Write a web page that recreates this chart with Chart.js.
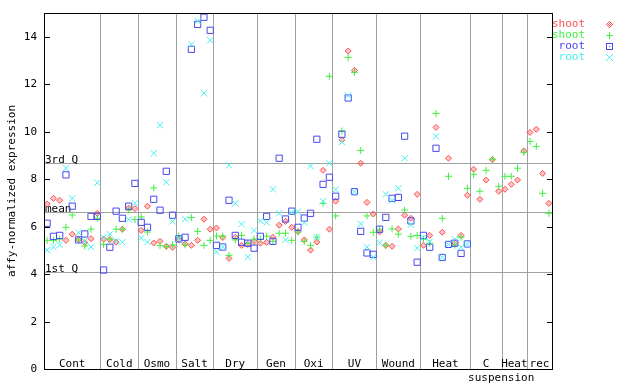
<!DOCTYPE html>
<html>
<head>
<meta charset="utf-8">
<script src="https://cdn.jsdelivr.net/npm/chart.js@4.4.0/dist/chart.umd.min.js"></script>
<style>
html, body { margin:0; padding:0; background:#fff; }
#wrap { width:640px; height:384px; }
</style>
</head>
<body>
<div id="wrap"><canvas id="chart" width="640" height="384"></canvas></div>
<script>
// x groups: name + number of samples in each
const groupNames = ["Cont","Cold","Osmo","Salt","Dry","Gen","Oxi","UV","Wound","Heat","C","Heat","rec"];
const groupSizes = [9, 6, 6, 6, 7, 6, 6, 7, 7, 8, 5, 4, 4];
const subLabel = "suspension";

const yTicks = [0, 2, 4, 6, 8, 10, 12, 14];
const refNames = ["3rd Q", "mean", "1st Q"];
const refValues = [8.67, 6.60, 4.07];

// shoot (red), shoot (green), root (blue), root (cyan)
const shootA = [6.95,7.19,7.11,5.42,5.68,5.45,5.32,5.49,6.56,
  5.47,5.45,5.34,5.89,6.78,6.76,
  5.84,6.86,5.31,5.38,5.17,5.13,
  5.45,5.27,5.21,5.42,6.31,5.89,
  5.94,5.54,4.66,5.55,5.21,5.25,5.38,
  5.30,5.34,5.55,6.06,6.22,5.97,
  5.79,5.44,5.01,5.35,8.37,5.89,
  7.07,9.65,13.40,12.58,8.67,7.02,6.53,
  5.78,5.21,5.17,5.90,6.48,6.35,7.36,
  5.21,5.63,10.18,5.76,8.88,5.32,5.63,7.32,
  8.42,7.15,7.96,8.82,7.49,
  7.57,7.78,7.96,9.19,
  9.97,10.10,8.24,6.98];
const shootB = [5.42,5.42,5.47,5.97,6.49,5.44,5.18,5.89,6.35,
  5.25,5.47,5.89,5.89,6.70,6.30,
  6.41,5.77,7.63,5.20,5.15,5.23,
  5.60,5.23,6.38,5.80,5.21,5.42,
  5.60,5.60,4.79,5.44,5.63,5.30,5.47,
  5.47,5.60,5.38,5.72,5.72,5.42,
  5.77,5.38,5.21,5.55,6.98,12.33,
  6.45,10.03,13.13,12.50,9.21,6.45,5.76,
  5.89,5.21,5.90,5.68,6.70,5.59,5.63,
  5.47,5.30,10.77,6.35,8.12,5.22,5.55,7.61,
  8.20,7.49,8.37,8.84,7.70,
  8.12,8.12,8.46,9.13,
  9.59,9.38,7.40,6.56];
const rootA = [6.14,5.59,5.63,8.18,6.86,5.44,5.69,6.43,6.43,
  4.17,5.13,6.65,6.35,6.86,7.82,
  6.18,5.97,7.15,6.69,8.33,6.48,
  5.48,5.55,13.47,14.52,14.82,14.27,
  5.21,5.14,7.11,5.63,5.34,5.30,5.09,
  5.59,6.43,5.38,8.88,6.32,6.65,
  5.97,6.36,6.56,9.68,7.78,8.08,
  7.28,9.89,11.42,7.47,5.80,4.89,4.83,
  5.89,6.39,7.19,7.23,9.81,6.24,4.50,
  5.63,5.13,9.30,4.70,5.25,5.30,4.87,5.27,
  null,null,null,null,null,
  null,null,null,null,
  null,null,null,null];
const rootB = [5.01,5.14,5.23,8.46,7.19,5.74,5.40,5.14,7.85,
  5.55,5.68,5.40,5.34,6.30,6.98,
  5.52,5.35,9.09,10.27,7.87,6.22,
  5.48,6.31,13.68,14.66,11.62,13.85,
  4.94,5.14,8.58,6.98,6.10,4.72,5.84,
  6.24,6.18,7.57,6.56,5.44,6.60,
  6.63,6.17,8.55,5.55,7.07,8.67,
  7.57,9.56,11.52,7.47,6.11,5.13,4.71,
  5.32,7.36,7.10,7.61,8.88,6.08,5.09,
  5.55,5.36,9.80,4.70,5.25,5.47,5.13,5.27,
  null,null,null,null,null,
  null,null,null,null,
  null,null,null,null];

const nSamples = groupSizes.reduce((a, b) => a + b, 0);

// legend marker bitmaps (drawn at whole pixels)
function marker(color, kind) {
  const c = document.createElement('canvas');
  c.width = 7; c.height = 7;
  const g = c.getContext('2d');
  g.fillStyle = color;
  for (let i = 0; i < 7; i++) {
    for (let j = 0; j < 7; j++) {
      const dx = i - 3, dy = j - 3;
      let on = false;
      if (kind === 'diamond') on = Math.abs(dx) + Math.abs(dy) <= 3 && (Math.abs(dx + dy) % 2 === 1);
      if (kind === 'plus') on = (dx === 0 || dy === 0);
      if (kind === 'square') on = (i === 0 || i === 6 || j === 0 || j === 6) || (dx === 0 && dy === 0);
      if (kind === 'x') on = (dx === dy || dx === -dy);
      if (on) g.fillRect(i, j, 1, 1);
    }
  }
  return c;
}

const series = [
  { label: "shoot", color: "#ff5050", fill: "rgba(255,80,80,0.35)", kind: 'diamond', style: 'rectRot', r: 3 },
  { label: "shoot", color: "#40f040", fill: "rgba(0,0,0,0)", kind: 'plus', style: 'cross', r: 3.5 },
  { label: "root",  color: "#4848f0", fill: "rgba(0,0,0,0)", kind: 'square', style: 'rect', r: 4.4 },
  { label: "root",  color: "#40f0f0", fill: "rgba(0,0,0,0)", kind: 'x', style: 'crossRot', r: 4.4 }
];
const seriesValues = [shootA, shootB, rootA, rootB];
series.forEach(s => s.img = marker(s.color, s.kind));

const FONT = '11px "DejaVu Sans Mono", monospace';

const decor = {
  id: 'decor',
  beforeDatasetsDraw(chart) {
    const ctx = chart.ctx, a = chart.chartArea;
    const xs = chart.scales.x, ys = chart.scales.y;
    ctx.save();
    ctx.strokeStyle = '#a0a0a0';
    ctx.lineWidth = 1;
    // group separators
    let acc = 0;
    for (let k = 0; k < groupSizes.length - 1; k++) {
      acc += groupSizes[k];
      const px = Math.round(xs.getPixelForValue(acc)) + 0.5;
      ctx.beginPath(); ctx.moveTo(px, a.top); ctx.lineTo(px, a.bottom); ctx.stroke();
    }
    // quartile / mean lines
    ctx.fillStyle = '#000';
    ctx.font = FONT;
    ctx.textAlign = 'left';
    ctx.textBaseline = 'alphabetic';
    refValues.forEach((v, k) => {
      const py = Math.round(ys.getPixelForValue(v)) + 0.5;
      ctx.beginPath(); ctx.moveTo(a.left, py); ctx.lineTo(a.right, py); ctx.stroke();
      ctx.fillText(refNames[k], a.left + 1, py - 1);
    });
    // group names at the bottom inside the plot
    ctx.textAlign = 'center';
    acc = 0;
    groupSizes.forEach((n, k) => {
      const mid = xs.getPixelForValue(acc + n / 2);
      ctx.fillText(groupNames[k], mid, a.bottom - 2);
      if (groupNames[k] === 'C') ctx.fillText(subLabel, mid + 15, a.bottom + 12);
      acc += n;
    });
    ctx.restore();
  },
  afterDatasetsDraw(chart) {
    const ctx = chart.ctx, a = chart.chartArea;
    const ys = chart.scales.y;
    ctx.save();
    ctx.strokeStyle = '#000';
    ctx.lineWidth = 1;
    ctx.strokeRect(Math.round(a.left) + 0.5, Math.round(a.top) + 0.5,
      Math.round(a.right - a.left), Math.round(a.bottom - a.top));
    ctx.fillStyle = '#000';
    ctx.font = FONT;
    ctx.textAlign = 'right';
    ctx.textBaseline = 'middle';
    yTicks.forEach(t => {
      const py = Math.round(ys.getPixelForValue(t)) + 0.5;
      ctx.beginPath();
      ctx.moveTo(a.left, py); ctx.lineTo(a.left + 6, py);
      ctx.moveTo(a.right, py); ctx.lineTo(a.right - 5, py);
      ctx.stroke();
      ctx.fillText(String(t), a.left - 7, py);
    });
    // y title
    ctx.save();
    ctx.translate(12, (a.top + a.bottom) / 2);
    ctx.rotate(-Math.PI / 2);
    ctx.textAlign = 'center';
    ctx.fillText('affy-normalized expression', 0, 0);
    ctx.restore();
    // legend
    series.forEach((s, k) => {
      const ly = 24 + k * 11;
      ctx.fillStyle = s.color;
      ctx.textAlign = 'right';
      ctx.fillText(s.label, 585, ly);
      ctx.drawImage(s.img, 606, ly - 3);
    });
    ctx.restore();
  }
};

new Chart(document.getElementById('chart'), {
  type: 'scatter',
  data: {
    datasets: series.map((s, k) => ({
      label: s.label,
      data: seriesValues[k].map((v, i) => ({ x: i + 0.5, y: v })),
      pointStyle: s.style,
      pointRadius: s.r,
      pointHoverRadius: s.r,
      pointBorderWidth: 1,
      borderColor: s.color,
      backgroundColor: s.fill,
      showLine: false,
      order: 4 - k
    }))
  },
  options: {
    responsive: false,
    animation: false,
    events: [],
    layout: { padding: { left: 44, right: 88, top: 13, bottom: 15 } },
    plugins: { legend: { display: false }, tooltip: { enabled: false } },
    scales: {
      x: { type: 'linear', min: 0, max: nSamples, display: false },
      y: { type: 'linear', min: 0, max: 15, display: false }
    }
  },
  plugins: [decor]
});
</script>
</body>
</html>
